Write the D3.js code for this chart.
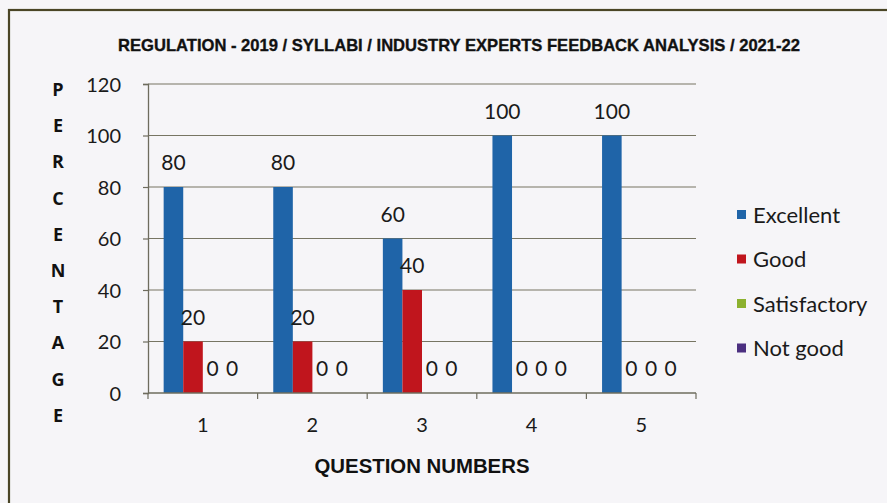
<!DOCTYPE html>
<html>
<head>
<meta charset="utf-8">
<script src="https://cdn.jsdelivr.net/npm/d3@7"></script>
<style>
  html, body { margin: 0; padding: 0; background: #f6f5f8; }
  svg { display: block; }
</style>
</head>
<body>
<svg id="chart" width="887" height="503"></svg>
<script>
const categories = ["1", "2", "3", "4", "5"];
const seriesNames = ["Excellent", "Good", "Satisfactory", "Not good"];
const excellent = [80, 80, 60, 100, 100];
const good = [20, 20, 40, 0, 0];
const satisfactory = [0, 0, 0, 0, 0];
const notGood = [0, 0, 0, 0, 0];
const yTicks = [0, 20, 40, 60, 80, 100, 120];
const title = "REGULATION - 2019 / SYLLABI / INDUSTRY EXPERTS FEEDBACK ANALYSIS / 2021-22";
const yTitle = "PERCENTAGE";
const xTitle = "QUESTION NUMBERS";

const seriesValues = [excellent, good, satisfactory, notGood];
const colors = ["#1f64a8", "#c0151d", "#8cb12f", "#4b2f80"];

const svg = d3.select("#chart");
const numFont = "Lato, 'Open Sans', sans-serif";

// outer frame (left + top visible)
svg.append("rect").attr("x", 9).attr("y", 10).attr("width", 900).attr("height", 520)
  .attr("fill", "#f6f5f8").attr("stroke", "#4a4526").attr("stroke-width", 2.2);

const plot = { left: 148, right: 696, top: 84, bottom: 393 };

const x0 = d3.scaleBand().domain(categories).range([plot.left, plot.right]).padding(0);
const x1 = d3.scaleBand().domain(seriesNames).range([0, x0.bandwidth()]).paddingInner(0).paddingOuter(0.8);
const y = d3.scaleLinear().domain([0, 120]).range([plot.bottom, plot.top]);

// gridlines
svg.append("g").selectAll("line").data(yTicks.filter(d => d > 0)).join("line")
  .attr("x1", plot.left).attr("x2", plot.right)
  .attr("y1", d => y(d)).attr("y2", d => y(d))
  .attr("stroke", "#777563").attr("stroke-width", 1.2);

// y axis
const yAxis = svg.append("g").attr("transform", `translate(${plot.left},0)`)
  .call(d3.axisLeft(y).tickValues(yTicks).tickSize(5).tickPadding(22));
yAxis.select(".domain").attr("stroke", "#6e6c5e").attr("stroke-width", 1.3);
yAxis.selectAll(".tick line").attr("stroke", "#6e6c5e").attr("stroke-width", 1.2);
yAxis.selectAll(".tick text").attr("font-family", numFont).attr("font-size", 20)
  .attr("fill", "#1a1a1a").attr("dy", "0.36em");

// bars
const groups = svg.append("g").selectAll("g").data(categories).join("g")
  .attr("transform", d => `translate(${x0(d)},0)`);

groups.selectAll("rect")
  .data((c, i) => seriesNames.map((s, j) => ({ s, j, v: seriesValues[j][i] })))
  .join("rect")
  .attr("x", d => x1(d.s))
  .attr("width", x1.bandwidth())
  .attr("y", d => y(d.v))
  .attr("height", d => y(0) - y(d.v))
  .attr("fill", d => colors[d.j]);

groups.selectAll("text")
  .data((c, i) => seriesNames.map((s, j) => ({ s, j, v: seriesValues[j][i] })))
  .join("text")
  .attr("x", d => x1(d.s) + x1.bandwidth() / 2)
  .attr("y", d => y(d.v) - 17)
  .attr("text-anchor", "middle")
  .attr("font-family", numFont).attr("font-size", 21).attr("fill", "#1a1a1a")
  .text(d => d.v);

// x axis
const xAxis = svg.append("g").attr("transform", `translate(0,${plot.bottom})`)
  .call(d3.axisBottom(x0).tickSize(0).tickPadding(23));
xAxis.select(".domain").remove();
svg.append("line").attr("x1", plot.left).attr("x2", plot.right)
  .attr("y1", plot.bottom).attr("y2", plot.bottom)
  .attr("stroke", "#6e6c5e").attr("stroke-width", 1.3);
const boundaries = categories.map(c => x0(c)).concat([plot.right]);
svg.append("g").selectAll("line").data(boundaries).join("line")
  .attr("x1", d => d).attr("x2", d => d)
  .attr("y1", plot.bottom).attr("y2", plot.bottom + 6)
  .attr("stroke", "#6e6c5e").attr("stroke-width", 1.2);
xAxis.selectAll(".tick text").attr("font-family", numFont).attr("font-size", 20)
  .attr("fill", "#1a1a1a").attr("dy", null).attr("y", 23).attr("dominant-baseline", "hanging");

// title
svg.append("text").attr("x", 459).attr("y", 51).attr("text-anchor", "middle")
  .attr("font-family", "'Liberation Sans Narrow', 'Liberation Sans', sans-serif")
  .attr("font-weight", "bold").attr("font-size", 17).attr("fill", "#111")
  .attr("stroke", "#111").attr("stroke-width", 0.35)
  .attr("textLength", 682).attr("lengthAdjust", "spacingAndGlyphs")
  .text(title);

// y title stacked
svg.append("g").selectAll("text").data(yTitle.split("")).join("text")
  .attr("x", 58).attr("y", (d, i) => 96 + i * 36.2)
  .attr("text-anchor", "middle")
  .attr("font-family", "'Open Sans', sans-serif").attr("font-weight", "bold")
  .attr("font-size", 18).attr("fill", "#111")
  .text(d => d);

// x title
svg.append("text").attr("x", 422).attr("y", 473).attr("text-anchor", "middle")
  .attr("font-family", "'Liberation Sans Narrow', 'Liberation Sans', sans-serif").attr("font-weight", "bold")
  .attr("font-size", 21).attr("fill", "#111")
  .attr("textLength", 215).attr("lengthAdjust", "spacingAndGlyphs")
  .text(xTitle);

// legend
const legend = svg.append("g").selectAll("g").data(seriesNames).join("g")
  .attr("transform", (d, i) => `translate(737,${215 + i * 44.5})`);
legend.append("rect").attr("x", 0).attr("y", -5).attr("width", 9).attr("height", 9)
  .attr("fill", (d, i) => colors[i]);
legend.append("text").attr("x", 16).attr("y", 0).attr("dy", "0.35em")
  .attr("font-family", numFont).attr("font-size", 22).attr("fill", "#1a1a1a")
  .text(d => d);
</script>
</body>
</html>
